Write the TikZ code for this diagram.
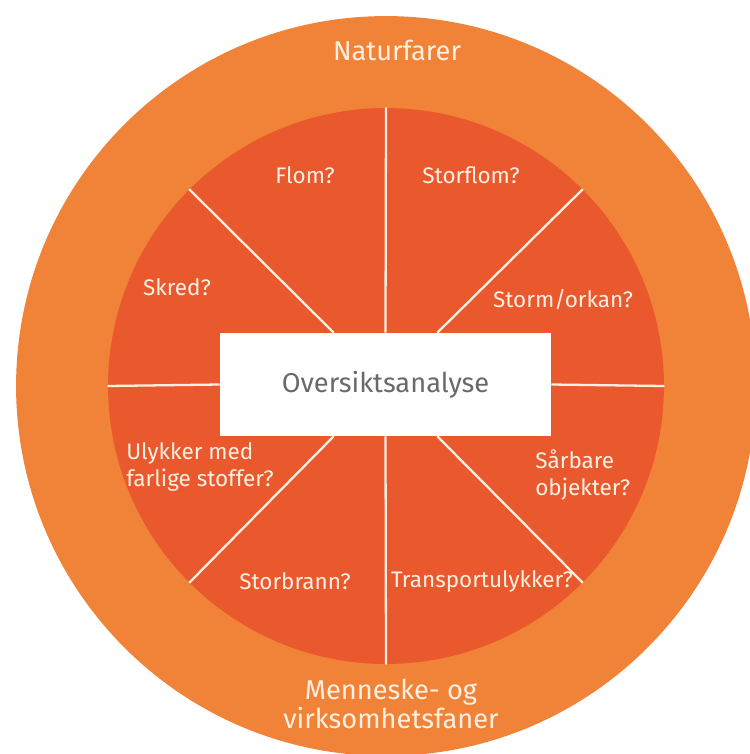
\documentclass[tikz,border=0pt]{standalone}
\usepackage{fontspec}
\setmainfont{Fira Sans}
\usepackage{xcolor}
\usepackage{tikz}
\usetikzlibrary{positioning, calc}
\definecolor{outerorange}{RGB}{241, 131, 56}
\definecolor{innerorange}{RGB}{234, 88, 45}
\definecolor{labelcream}{RGB}{255, 240, 226}
\definecolor{boxgray}{RGB}{105, 105, 105}

\begin{document}
\begin{tikzpicture}[
    x=0.02cm, y=-0.02cm,
    ring/.style={circle, inner sep=0pt, draw=none},
    box/.style={rectangle, minimum width=6.62cm, minimum height=2.06cm, fill=white, text=boxgray, font=\fontsize{15.5}{18}\selectfont},
    lbl/.style={text=labelcream, font=\fontsize{12.8}{15.3}\selectfont, inner sep=0pt},
    bigl/.style={text=labelcream, font=\fontsize{15.5}{17}\selectfont, inner sep=0pt, align=center},
    spoke/.style={draw=labelcream, line width=1.3pt}
]
    \useasboundingbox (0,0) rectangle (750,754);
    \clip (0,0) rectangle (750,754);
    \node[ring, fill=outerorange, minimum size=14.8cm] (outer) at (386,386) {};
    \node[ring, fill=innerorange, minimum size=11.12cm] (inner) at (386,386) {};
    \node[box] (analyse) at (385.5,384.5) {Oversiktsanalyse};
    % spokes
    \draw[spoke] (inner.north) -- (analyse.north);
    \draw[spoke] (analyse.south) -- (inner.south);
    \draw[spoke] (inner.west) -- (analyse.west);
    \draw[spoke] (analyse.east) -- (inner.east);
    \draw[spoke] (inner.45) -- (analyse.45);
    \draw[spoke] (inner.135) -- (analyse.135);
    \draw[spoke] (inner.225) -- (analyse.225);
    \draw[spoke] (inner.315) -- (analyse.315);
    % labels
    \node[bigl] (natur) at (397,50) {Naturfarer};
    \node[bigl] (menneske) at (391,704) {Menneske- og\\virksomhetsfaner};
    \node[lbl] (flom) at (305,175) {Flom?};
    \node[lbl] (storflom) at (471,175) {Storflom?};
    \node[lbl] (skred) at (177,287) {Skred?};
    \node[lbl] (storm) at (563,300) {Storm/orkan?};
    \node[lbl, align=left, anchor=west] (ulykker) at (126,467) {Ulykker med\\farlige stoffer?};
    \node[lbl, align=left, anchor=west] (sarbare) at (535,475) {Sårbare\\objekter?};
    \node[lbl] (storbrann) at (295,581) {Storbrann?};
    \node[lbl] (transport) at (482,581) {Transportulykker?};
\end{tikzpicture}
\end{document}
